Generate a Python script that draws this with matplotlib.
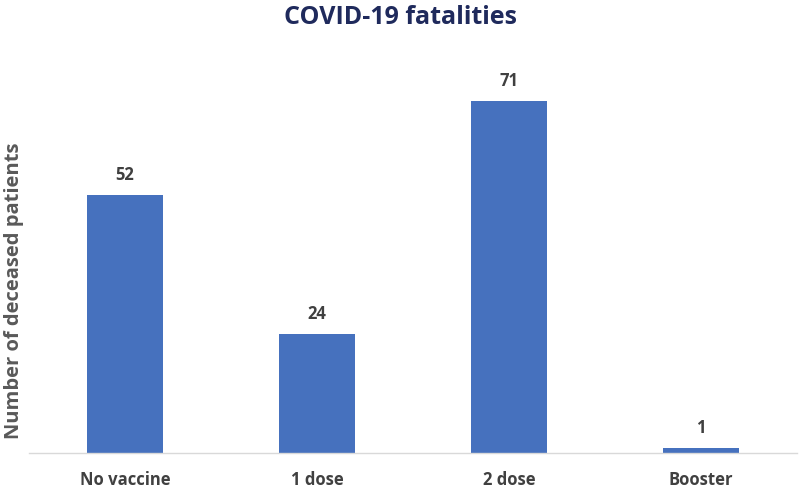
import matplotlib
matplotlib.use("Agg")
import matplotlib.pyplot as plt

categories = ["No vaccine", "1 dose", "2 dose", "Booster"]
values = [52, 24, 71, 1]

plt.rcParams['font.family'] = ['Open Sans', 'DejaVu Sans']

fig = plt.figure(figsize=(8, 4.88), dpi=100)
ax = fig.add_axes([29/800, 35/488, 768/800, (453-56)/488])
x = range(len(categories))
bars = ax.bar(x, values, width=0.4, color="#4671BE")
ax.set_xlim(-0.5, len(categories) - 0.5)
ax.set_ylim(0, 80)
for xi, v in zip(x, values):
    ax.annotate(str(v), (xi, v), xytext=(0, 8), textcoords="offset points",
                ha="center", va="bottom", fontsize=12, fontweight="bold", color="#404040")
ax.set_xticks(list(x))
ax.set_xticklabels(categories, fontsize=12, fontweight="bold", color="#404040")
ax.tick_params(axis="x", length=0, pad=13)
ax.set_yticks([])
for s in ["top", "right", "left"]:
    ax.spines[s].set_visible(False)
ax.spines["bottom"].set_color("#d9d9d9")
ax.spines["bottom"].set_linewidth(1)
fig.text(0.5, 0.965, "COVID-19 fatalities", ha="center", va="center",
         fontsize=18, fontweight="bold", color="#1F2A5C")
fig.text(14/800, 0.5 - 47/488, "Number of deceased patients", rotation=90, ha="center", va="center",
         fontsize=14.5, fontweight="bold", color="#595959")
fig.savefig("out.png", dpi=100)
